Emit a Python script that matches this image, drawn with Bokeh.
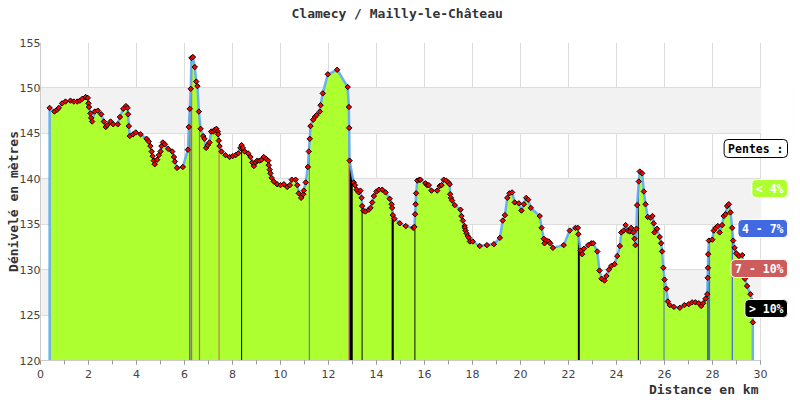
import numpy as np
from bokeh.plotting import figure
from bokeh.models import Label, SingleIntervalTicker, Range1d, BoxAnnotation, Title
from bokeh.embed import file_html
from bokeh.resources import INLINE

title_text = "Clamecy / Mailly-le-Château"
x_label = "Distance en km"
y_label = "Dénivelé en mètres"

km = [0.38, 0.58, 0.69, 0.76, 0.90, 1.04, 1.25, 1.39, 1.53, 1.64, 1.74, 1.88, 1.97, 2.00, 2.02,
      2.08, 2.11, 2.15, 2.26, 2.39, 2.53, 2.64, 2.72, 2.78, 2.92, 3.03, 3.22, 3.31, 3.45, 3.56,
      3.63, 3.65, 3.68, 3.72, 3.86, 3.97, 4.17, 4.42, 4.51, 4.58, 4.63, 4.67, 4.72, 4.76, 4.86,
      4.93, 5.00, 5.04, 5.10, 5.18, 5.32, 5.49, 5.56, 5.60, 5.69, 5.93, 6.14, 6.18, 6.22, 6.26,
      6.29, 6.35, 6.43, 6.49, 6.54, 6.60, 6.67, 6.78, 6.83, 6.90, 6.97, 7.04, 7.11, 7.20, 7.26,
      7.33, 7.39, 7.40, 7.43, 7.46, 7.54, 7.71, 7.88, 8.01, 8.13, 8.24, 8.33, 8.38, 8.43, 8.51,
      8.65, 8.75, 8.82, 8.89, 8.96, 9.03, 9.13, 9.21, 9.30, 9.40, 9.49, 9.51, 9.55, 9.58, 9.63,
      9.72, 9.86, 10.00, 10.14, 10.28, 10.39, 10.47, 10.63, 10.70, 10.76, 10.86, 10.95, 10.97, 11.05, 11.14,
      11.18, 11.22, 11.25, 11.36, 11.43, 11.50, 11.64, 11.67, 11.76, 11.97, 12.36, 12.80, 12.85, 12.86, 12.88,
      13.05, 13.10, 13.17, 13.26, 13.33, 13.38, 13.40, 13.45, 13.54, 13.68, 13.75, 13.82, 13.89, 14.00, 14.10,
      14.24, 14.38, 14.55, 14.63, 14.65, 14.68, 14.75, 14.97, 15.22, 15.53, 15.58, 15.61, 15.63, 15.65, 15.70,
      15.79, 15.83, 16.04, 16.11, 16.18, 16.29, 16.53, 16.63, 16.71, 16.80, 16.90, 16.99, 17.05, 17.07, 17.10,
      17.15, 17.26, 17.50, 17.54, 17.60, 17.67, 17.68, 17.71, 17.75, 17.80, 17.85, 17.89, 18.01, 18.30, 18.60,
      18.89, 19.14, 19.26, 19.35, 19.45, 19.54, 19.65, 19.76, 19.93, 20.04, 20.14, 20.24, 20.32, 20.43, 20.80,
      20.88, 20.97, 21.00, 21.08, 21.18, 21.24, 21.35, 21.80, 22.05, 22.29, 22.39, 22.41, 22.50, 22.57, 22.64,
      22.82, 22.95, 23.03, 23.20, 23.29, 23.38, 23.50, 23.58, 23.68, 23.78, 23.92, 24.03, 24.14, 24.20, 24.30,
      24.38, 24.47, 24.55, 24.61, 24.70, 24.75, 24.79, 24.83, 24.86, 24.93, 24.97, 25.07, 25.14, 25.21, 25.30,
      25.42, 25.50, 25.55, 25.58, 25.69, 25.80, 25.86, 25.90, 25.95, 26.00, 26.08, 26.14, 26.22, 26.39, 26.64,
      26.83, 27.01, 27.15, 27.29, 27.43, 27.53, 27.61, 27.71, 27.78, 27.80, 27.81, 27.82, 27.85, 27.99, 28.05,
      28.13, 28.22, 28.30, 28.40, 28.47, 28.54, 28.61, 28.68, 28.75, 28.82, 28.86, 28.92, 28.99, 29.10, 29.24,
      29.30, 29.35, 29.44, 29.58, 29.65, 29.68]
elev = [147.8, 147.4, 147.6, 147.8, 148.3, 148.5, 148.6, 148.5, 148.5, 148.6, 148.8, 149.0, 148.9, 148.3, 147.9,
        147.2, 146.7, 146.3, 147.4, 147.5, 147.1, 146.3, 145.7, 145.9, 146.3, 146.0, 146.0, 146.8, 147.7, 148.0,
        147.8, 147.1, 145.8, 144.7, 144.9, 145.1, 144.9, 144.4, 144.1, 143.6, 143.0, 142.5, 142.0, 141.6, 142.1,
        142.6, 143.0, 143.6, 144.0, 143.8, 143.3, 143.0, 142.4, 141.9, 141.2, 141.3, 143.2, 145.7, 147.7, 149.9,
        153.3, 153.4, 152.3, 150.7, 150.2, 147.4, 145.5, 144.7, 144.4, 143.4, 143.7, 144.0, 145.2, 145.2, 145.4,
        145.5, 145.2, 144.9, 144.2, 143.6, 143.0, 142.6, 142.4, 142.5, 142.6, 142.8, 143.4, 143.7, 143.4, 143.0,
        142.8, 142.4, 141.8, 141.4, 141.8, 142.0, 142.0, 142.1, 142.4, 142.2, 142.0, 141.5, 141.0, 140.6, 140.1,
        139.7, 139.4, 139.3, 139.4, 139.1, 139.3, 139.9, 139.9, 139.3, 138.4, 137.9, 138.3, 138.7, 139.6, 141.3,
        143.0, 144.4, 145.8, 146.5, 146.8, 147.0, 147.4, 148.1, 149.4, 151.5, 152.0, 150.1, 147.9, 145.6, 142.0,
        139.6, 139.3, 138.8, 138.5, 138.7, 137.9, 137.0, 136.5, 136.4, 136.6, 136.8, 137.4, 138.1, 138.6, 138.8,
        138.8, 138.5, 137.8, 137.2, 136.8, 136.0, 135.6, 135.1, 134.8, 134.6, 134.7, 136.1, 137.2, 138.4, 139.8,
        139.9, 139.9, 139.5, 139.3, 139.3, 138.7, 138.7, 139.2, 139.3, 139.9, 139.8, 139.6, 139.4, 138.3, 137.9,
        137.6, 137.1, 136.6, 135.9, 135.4, 134.8, 134.6, 134.3, 134.0, 133.7, 133.5, 133.1, 133.1, 132.6, 132.7,
        132.8, 133.5, 135.4, 136.0, 137.9, 138.4, 138.5, 137.4, 137.3, 136.5, 137.2, 137.9, 137.7, 136.8, 135.9,
        134.6, 133.4, 132.9, 133.2, 133.1, 132.9, 132.4, 132.7, 134.3, 134.6, 134.6, 133.9, 132.1, 131.7, 132.3,
        132.7, 132.9, 132.9, 132.0, 129.9, 129.0, 128.8, 129.3, 130.0, 130.4, 130.6, 131.5, 132.6, 134.1, 134.3,
        134.9, 134.3, 134.2, 134.6, 134.1, 133.4, 132.7, 134.5, 137.1, 139.7, 140.8, 140.6, 138.6, 137.2, 135.8,
        135.7, 135.9, 135.1, 134.1, 134.5, 133.6, 132.9, 132.0, 130.2, 128.9, 127.9, 126.5, 126.1, 125.9, 125.8,
        126.1, 126.2, 126.4, 126.4, 126.3, 126.0, 126.3, 126.8, 127.3, 129.1, 130.2, 131.7, 133.2, 133.3, 134.3,
        134.6, 134.8, 134.1, 134.9, 135.9, 136.1, 137.0, 137.2, 136.3, 134.6, 133.2, 132.4, 131.8, 131.5, 131.6,
        130.5, 129.0, 128.2, 127.3, 126.5, 124.2]

# steep sections (slope classes)
steep_start = [6.19, 6.26, 6.60, 7.42, 8.36, 11.18, 12.83, 12.88, 13.38, 14.63, 15.58, 22.39, 24.89, 25.96, 27.79, 27.83, 28.80]
steep_end = [6.25, 6.32, 6.65, 7.46, 8.40, 11.22, 12.88, 13.01, 13.42, 14.72, 15.62, 22.47, 24.93, 26.00, 27.83, 27.90, 28.85]
steep_class = ["4 - 7%", "7 - 10%", "7 - 10%", "7 - 10%", "> 10%", "4 - 7%", "7 - 10%", "> 10%", "> 10%",
               "> 10%", "> 10%", "> 10%", "> 10%", "4 - 7%", "> 10%", "4 - 7%", "4 - 7%"]

legend_title = "Pentes :"
legend_labels = ["< 4%", "4 - 7%", "7 - 10%", "> 10%"]
legend_colors = ["#ADFF2F", "#4169E1", "#CD5C5C", "#000000"]
class_color = dict(zip(legend_labels, legend_colors))

X_MAX = 30
Y0, Y1 = 120, 155
PX_PER_KM = 24.0
FRAME_W = 752
MONO = "DejaVu Sans Mono"

p = figure(width=800, height=400, x_range=Range1d(0, FRAME_W / PX_PER_KM), y_range=Range1d(Y0, Y1),
           output_backend="svg", toolbar_location=None,
           min_border_left=40, min_border_right=8, min_border_top=41, min_border_bottom=40)
p.background_fill_color = "white"
p.border_fill_color = "white"
p.outline_line_color = None

# title: an empty second line lifts the text towards the top edge
p.title.text = title_text + "\n "
p.title.text_font = MONO
p.title.text_font_style = "bold"
p.title.text_font_size = "13px"
p.title.text_color = "#333333"
p.title.align = "left"
p.title.offset = 251
p.title.vertical_align = "top"
p.title.standoff = 10

p.xaxis.ticker = SingleIntervalTicker(interval=2, num_minor_ticks=2)
p.xaxis.bounds = (0, X_MAX)
p.yaxis.ticker = SingleIntervalTicker(interval=5, num_minor_ticks=0)
p.xgrid.ticker = SingleIntervalTicker(interval=2)
p.ygrid.ticker = SingleIntervalTicker(interval=5)
p.grid.grid_line_color = "#dddddd"
p.ygrid.band_fill_color = "#f2f2f2"
p.ygrid.band_fill_alpha = 1.0
p.axis.axis_line_color = "#cccccc"
p.axis.major_tick_line_color = "#999999"
p.axis.minor_tick_line_color = "#999999"
p.xaxis.major_tick_out = 4
p.xaxis.major_tick_in = 0
p.xaxis.minor_tick_out = 4
p.xaxis.minor_tick_in = 0
p.yaxis.major_tick_out = 0
p.yaxis.major_tick_in = 0
p.yaxis.major_label_standoff = 0
p.axis.major_label_text_font = "DejaVu Sans"
p.axis.major_label_text_font_size = "11px"
p.axis.major_label_text_color = "#444444"

p.yaxis.axis_label = y_label
p.yaxis.axis_label_text_font = MONO
p.yaxis.axis_label_text_font_style = "bold"
p.yaxis.axis_label_text_font_size = "13px"
p.yaxis.axis_label_text_color = "#333333"
p.yaxis.axis_label_standoff = -4

# right-aligned x-axis caption
p.add_layout(Title(text=x_label, align="right", offset=34, vertical_align="top", standoff=2,
                   text_font=MONO, text_font_style="bold", text_font_size="13px",
                   text_color="#333333"), "below")

# blank the strip right of 30 km (room for the legend)
p.add_layout(BoxAnnotation(left=X_MAX + 0.03, fill_color="white", fill_alpha=1.0, line_color=None,
                           level="underlay"))

# main profile fill
p.varea(x=km, y1=[Y0] * len(km), y2=elev, fill_color="#ADFF2F", fill_alpha=1.0)

# steep sections
km_a = np.array(km)
el_a = np.array(elev)
for s, e, c in zip(steep_start, steep_end, steep_class):
    xs = [s] + [k for k in km if s < k < e] + [e]
    ys = list(np.interp(xs, km_a, el_a))
    p.varea(x=xs, y1=[Y0] * len(xs), y2=ys, fill_color=class_color[c], fill_alpha=1.0)

# outline
p.line(x=[km[0]] + km + [km[-1]], y=[Y0] + elev + [Y0], line_color="#5fa8f8", line_width=2.5, line_alpha=0.9)

# points
p.scatter(x=km, y=elev, marker="square", size=3.8, angle=np.pi / 4,
          fill_color="red", line_color="black", line_width=1)

# legend boxes
leg_x = 747
pad = dict(left=4, right=4, top=2, bottom=2)
leg_items = [(legend_title, "white", "black", "black", 212)] + \
    [(t, c, "white", "#fffff0", y) for t, c, y in zip(legend_labels, legend_colors, [172, 132, 92, 52])]
for text, bg, fg, border, y in leg_items:
    p.add_layout(Label(x=leg_x + 3, y=y - 3, x_units="screen", y_units="screen", text=text,
                       text_font=MONO, text_font_style="bold", text_font_size="11.5px", text_alpha=0,
                       text_align="right", text_baseline="middle", padding=pad, border_radius=4,
                       background_fill_color="#aaaaaa", background_fill_alpha=0.8, border_line_color=None))
    p.add_layout(Label(x=leg_x, y=y, x_units="screen", y_units="screen", text=text,
                       text_font=MONO, text_font_style="bold", text_font_size="11.5px", text_color=fg,
                       text_align="right", text_baseline="middle", padding=pad, border_radius=4,
                       background_fill_color=bg, border_line_color=border, border_line_width=1))

open("out.html", "w").write(file_html(p, INLINE))
